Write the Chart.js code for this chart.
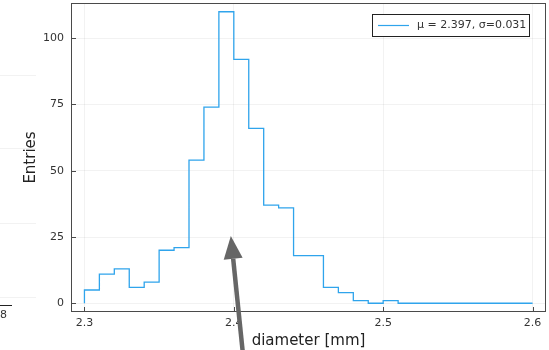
<!DOCTYPE html>
<html>
<head>
<meta charset="utf-8">
<script src="https://cdn.jsdelivr.net/npm/chart.js@4"></script>
<style>
  body { margin: 0; background: #fff; }
  #wrap { width: 549px; height: 350px; }
</style>
</head>
<body>
<div id="wrap"><canvas id="chartCanvas" width="549" height="350"></canvas></div>
<script>
// histogram bin edges (mm) and counts per bin
const binEdges = [2.30, 2.31, 2.32, 2.33, 2.34, 2.35, 2.36, 2.37, 2.38, 2.39, 2.40,
                  2.41, 2.42, 2.43, 2.44, 2.45, 2.46, 2.47, 2.48, 2.49, 2.50,
                  2.51, 2.52, 2.53, 2.54, 2.55, 2.56, 2.57, 2.58, 2.59, 2.60];
const counts = [5, 11, 13, 6, 8, 20, 21, 54, 74, 110,
                92, 66, 37, 36, 18, 18, 6, 4, 1, 0,
                1, 0, 0, 0, 0, 0, 0, 0, 0, 0];
const xTicks = [2.3, 2.4, 2.5, 2.6];
const yTicks = [0, 25, 50, 75, 100];
const seriesLabel = "μ = 2.397, σ=0.031";

// arrow annotation, in data units
const arrowTip = { x: 2.398, y: 25.4 };
const arrowTail = { x: 2.406, y: -18.5 };

const lineColor = "#2fa4ec";
const frameColor = "#4a4a4a";
const gridColor = "rgba(0,0,0,0.05)";
const font = "DejaVu Sans";

const points = [{ x: binEdges[0], y: 0 }].concat(
  counts.map((c, i) => ({ x: binEdges[i + 1], y: c }))
);

// box frame + inward tick marks like Plots.jl
const framePlugin = {
  id: "frame",
  afterDraw(chart) {
    const { ctx, chartArea: a, scales } = chart;
    ctx.save();
    ctx.strokeStyle = frameColor;
    ctx.lineWidth = 1;
    ctx.strokeRect(a.left + 0.5, a.top + 0.5, a.right - a.left - 1, a.bottom - a.top - 1);
    ctx.beginPath();
    xTicks.forEach(v => {
      const px = Math.round(scales.x.getPixelForValue(v)) + 0.5;
      ctx.moveTo(px, a.bottom);
      ctx.lineTo(px, a.bottom - 5);
    });
    yTicks.forEach(v => {
      const py = Math.round(scales.y.getPixelForValue(v)) + 0.5;
      ctx.moveTo(a.left, py);
      ctx.lineTo(a.left + 5, py);
    });
    ctx.stroke();
    ctx.restore();
  }
};

// legend box in the top right corner of the plot
const legendPlugin = {
  id: "boxLegend",
  afterDraw(chart) {
    const { ctx, chartArea: a } = chart;
    ctx.save();
    ctx.font = "11px '" + font + "'";
    const tw = ctx.measureText(seriesLabel).width;
    const w = Math.round(tw + 48);
    const h = 22;
    const x0 = Math.round(a.right - 17 - w);
    const y0 = a.top + 11;
    ctx.fillStyle = "#fff";
    ctx.fillRect(x0, y0, w, h);
    ctx.strokeStyle = "#222";
    ctx.lineWidth = 1;
    ctx.strokeRect(x0 + 0.5, y0 + 0.5, w, h);
    ctx.strokeStyle = lineColor;
    ctx.lineWidth = 1.2;
    ctx.beginPath();
    ctx.moveTo(x0 + 6, y0 + 11.5);
    ctx.lineTo(x0 + 37, y0 + 11.5);
    ctx.stroke();
    ctx.fillStyle = "#333";
    ctx.textBaseline = "middle";
    ctx.fillText(seriesLabel, x0 + 45, y0 + 11.5);
    ctx.restore();
  }
};

// thick grey arrow drawn over the plot
const arrowPlugin = {
  id: "arrow",
  afterDraw(chart) {
    const { ctx, scales } = chart;
    const tx = scales.x.getPixelForValue(arrowTip.x), ty = scales.y.getPixelForValue(arrowTip.y);
    const sx = scales.x.getPixelForValue(arrowTail.x), sy = scales.y.getPixelForValue(arrowTail.y);
    const len = Math.hypot(sx - tx, sy - ty);
    const ux = (sx - tx) / len, uy = (sy - ty) / len;
    const bx = tx + ux * 23, by = ty + uy * 23;
    const hw = 9.5;
    ctx.save();
    ctx.strokeStyle = "#666";
    ctx.fillStyle = "#666";
    ctx.lineWidth = 4.5;
    ctx.beginPath();
    ctx.moveTo(sx, sy);
    ctx.lineTo(bx, by);
    ctx.stroke();
    ctx.beginPath();
    ctx.moveTo(tx, ty);
    ctx.lineTo(bx - uy * hw, by + ux * hw);
    ctx.lineTo(bx + uy * hw, by - ux * hw);
    ctx.closePath();
    ctx.fill();
    ctx.restore();
  }
};

// sliver of the neighbouring panel at the left edge
const sliverPlugin = {
  id: "sliver",
  beforeDraw(chart) {
    const ctx = chart.ctx;
    ctx.save();
    ctx.strokeStyle = gridColor;
    ctx.beginPath();
    [75, 148, 223, 297].forEach(y => { ctx.moveTo(0, y + 0.5); ctx.lineTo(36, y + 0.5); });
    ctx.stroke();
    ctx.strokeStyle = "#222";
    ctx.beginPath();
    ctx.moveTo(0, 305.5);
    ctx.lineTo(12, 305.5);
    ctx.stroke();
    ctx.fillStyle = "#333";
    ctx.font = "11px '" + font + "'";
    ctx.textBaseline = "middle";
    ctx.fillText("8", 0, 315);
    ctx.restore();
  }
};

const ctx = document.getElementById("chartCanvas").getContext("2d");
new Chart(ctx, {
  type: "line",
  data: {
    datasets: [{
      label: seriesLabel,
      data: points,
      borderColor: lineColor,
      borderWidth: 1.3,
      stepped: "after",
      pointRadius: 0,
      fill: false,
      tension: 0
    }]
  },
  options: {
    responsive: false,
    animation: false,
    layout: { padding: { top: 3, right: 3, left: 0, bottom: 0 } },
    plugins: {
      legend: { display: false },
      tooltip: { enabled: false }
    },
    scales: {
      x: {
        type: "linear",
        min: 2.291,
        max: 2.609,
        afterBuildTicks: s => { s.ticks = xTicks.map(v => ({ value: v })); },
        afterFit: s => { s.height = 38; s.paddingLeft = 0; s.paddingRight = 0; },
        ticks: {
          color: "#333",
          font: { family: font, size: 11 },
          padding: 5,
          maxRotation: 0,
          callback: v => String(v)
        },
        grid: { color: gridColor, drawTicks: false },
        border: { display: false },
        title: {
          display: true,
          text: "diameter [mm]",
          color: "#222",
          font: { family: font, size: 15 },
          padding: { top: 2, bottom: 0 }
        }
      },
      y: {
        min: -3.3,
        max: 113.3,
        afterBuildTicks: s => { s.ticks = yTicks.map(v => ({ value: v })); },
        afterFit: s => { s.width = 71; s.paddingTop = 0; s.paddingBottom = 0; },
        ticks: {
          color: "#333",
          font: { family: font, size: 11 },
          padding: 7,
          callback: v => String(v)
        },
        grid: { color: gridColor, drawTicks: false },
        border: { display: false },
        title: {
          display: true,
          text: "Entries",
          color: "#222",
          font: { family: font, size: 15 },
          padding: { top: 22, bottom: 0 }
        }
      }
    }
  },
  plugins: [sliverPlugin, framePlugin, legendPlugin, arrowPlugin]
});
</script>
</body>
</html>
